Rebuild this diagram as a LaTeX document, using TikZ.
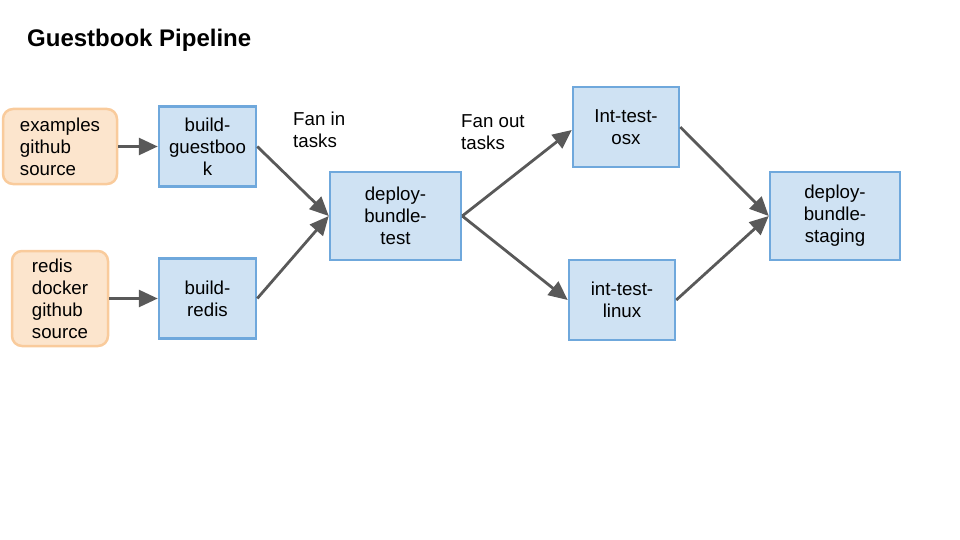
\documentclass[tikz,border=0pt]{standalone}
\usepackage{fontspec}
\setmainfont{Liberation Sans}
\usetikzlibrary{arrows.meta, positioning}

\definecolor{srcfill}{HTML}{FCE5CD}
\definecolor{srcline}{HTML}{F9CB9C}
\definecolor{taskfill}{HTML}{CFE2F3}
\definecolor{taskline}{HTML}{6FA8DC}
\definecolor{flowline}{HTML}{595959}

\begin{document}
\begin{tikzpicture}[
    x=1pt, y=1pt,
    source/.style={rectangle, rounded corners=10pt, draw=srcline, fill=srcfill, line width=2.5pt, align=left, inner sep=0pt, font=\fontsize{18.7}{22}\selectfont},
    task/.style={rectangle, draw=taskline, fill=taskfill, line width=2.5pt, align=center, inner sep=0pt, minimum height=80pt, font=\fontsize{18.7}{22}\selectfont},
    note/.style={align=left, anchor=north west, inner sep=0pt, font=\fontsize{18.7}{22}\selectfont},
    flow/.style={draw=flowline, line width=2.8pt, -{Triangle[length=19pt, width=17pt]}}
]

\useasboundingbox (0,0) rectangle (960,-540);

% Title
\node[anchor=base west, inner sep=0pt, font=\fontsize{24}{28}\selectfont\bfseries] (title) at (27,-47) {Guestbook Pipeline};

% Source repositories
\node[source, minimum width=114pt, minimum height=75pt] (examples) at (60,-146.5) {examples\\github\\source};
\node[source, minimum width=96pt, minimum height=95pt] (redis) at (60,-298.5) {redis\\docker\\github\\source};

% Build tasks
\node[task, minimum width=97pt] (build_guestbook) at (207.5,-146.5) {build-\\guestboo\\k};
\node[task, minimum width=97pt] (build_redis) at (207.5,-298.5) {build-\\redis};

% Deploy to test
\node[task, minimum width=131pt, minimum height=88pt] (deploy_test) at (395.5,-216) {deploy-\\bundle-\\test};

% Integration tests
\node[task, minimum width=106pt] (int_osx) at (626,-127) {Int-test-\\osx};
\node[task, minimum width=106pt] (int_linux) at (622,-300) {int-test-\\linux};

% Deploy to staging
\node[task, minimum width=130pt, minimum height=88pt] (deploy_staging) at (835,-216) {deploy-\\bundle-\\staging};

% Notes
\node[note] (fan_in) at (293,-112) {Fan in\\tasks};
\node[note] (fan_out) at (461,-114) {Fan out\\tasks};

% Flow
\draw[flow] (examples.east) -- (build_guestbook.west);
\draw[flow] (redis.east) -- (build_redis.west);
\draw[flow] (build_guestbook.east) -- (deploy_test.west);
\draw[flow] (build_redis.east) -- (deploy_test.west);
\draw[flow] (deploy_test.east) -- ([yshift=-3pt]int_osx.west);
\draw[flow] (deploy_test.east) -- (int_linux.west);
\draw[flow] (int_osx.east) -- (deploy_staging.west);
\draw[flow] (int_linux.east) -- (deploy_staging.west);

\end{tikzpicture}
\end{document}
